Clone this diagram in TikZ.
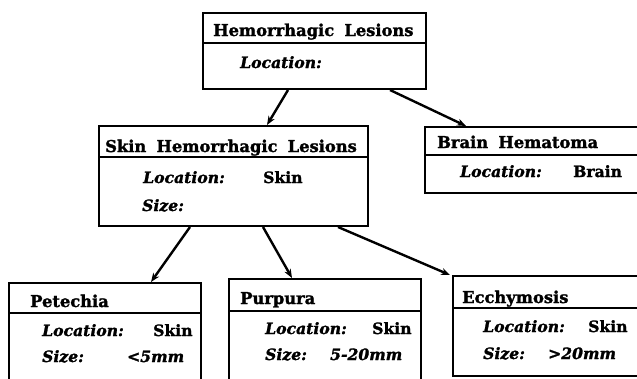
\documentclass[tikz,border=0pt]{standalone}
\usepackage{fontspec}
\setmainfont{DejaVu Serif}
\newfontface\hvy{DejaVu Serif Bold}[FakeBold=1.6,WordSpace=1.8]
\newfontface\hvyit{DejaVu Serif Bold Italic}[FakeBold=1.6]
\usetikzlibrary{arrows.meta}
\begin{document}
\begin{tikzpicture}[x=1pt,y=-1pt,
  box/.style={draw=black, line width=2pt, anchor=north west, inner sep=0pt},
  divline/.style={line width=1.5pt},
  ttl/.style={anchor=base west, inner sep=0pt, font=\fontsize{16.3}{16}\hvy},
  lbl/.style={anchor=base west, inner sep=0pt, font=\fontsize{15.6}{16}\hvyit},
  val/.style={anchor=base west, inner sep=0pt, font=\fontsize{15.6}{16}\hvy},
  vali/.style={anchor=base west, inner sep=0pt, font=\fontsize{15.6}{16}\hvyit},
  arr/.style={line width=2.4pt, -{Stealth[length=9pt,width=7pt]}}]
\useasboundingbox (0,0) rectangle (637,378);
\clip (0,0) rectangle (637,378);
% boxes
\node[box, minimum width=223pt, minimum height=76pt] (top) at (202,12) {};
\node[box, minimum width=269pt, minimum height=100pt] (skin) at (98,125) {};
\node[box, minimum width=236pt, minimum height=66pt] (brain) at (424,126) {};
\node[box, minimum width=192pt, minimum height=120pt] (pet) at (8,282) {};
\node[box, minimum width=192pt, minimum height=122pt] (pur) at (228,278) {};
\node[box, minimum width=210pt, minimum height=100pt] (ecc) at (452,275) {};
% dividers
\draw[divline] ([yshift=-31pt]top.north west) -- ([yshift=-31pt]top.north east);
\draw[divline] ([yshift=-32pt]skin.north west) -- ([yshift=-32pt]skin.north east);
\draw[divline] ([yshift=-29pt]brain.north west) -- ([yshift=-29pt]brain.north east);
\draw[divline] ([yshift=-31pt]pet.north west) -- ([yshift=-31pt]pet.north east);
\draw[divline] ([yshift=-33pt]pur.north west) -- ([yshift=-33pt]pur.north east);
\draw[divline] ([yshift=-33pt]ecc.north west) -- ([yshift=-33pt]ecc.north east);
% texts
\node[ttl] (t1) at (213,36) {Hemorrhagic Lesions};
\node[lbl] (t1l) at (240,68) {Location:};
\node[ttl] (t2) at (105,152) {Skin Hemorrhagic Lesions};
\node[lbl] (t2l) at (143,183) {Location:};
\node[val] (t2lv) at (263,183) {Skin};
\node[lbl] (t2s) at (142,211) {Size:};
\node[ttl] (t3) at (437,148) {Brain Hematoma};
\node[lbl] (t3l) at (460,177) {Location:};
\node[val] (t3lv) at (573,177) {Brain};
\node[ttl] (t4) at (30,307) {Petechia};
\node[lbl] (t4l) at (42,336) {Location:};
\node[val] (t4lv) at (153,336) {Skin};
\node[lbl] (t4s) at (42,362) {Size:};
\node[vali] (t4sv) at (127,362) {<5mm};
\node[ttl] (t5) at (240,304) {Purpura};
\node[lbl] (t5l) at (265,334) {Location:};
\node[val] (t5lv) at (372,334) {Skin};
\node[lbl] (t5s) at (265,360) {Size:};
\node[vali] (t5sv) at (330,360) {5-20mm};
\node[ttl] (t6) at (462,303) {Ecchymosis};
\node[lbl] (t6l) at (483,332) {Location:};
\node[val] (t6lv) at (588,332) {Skin};
\node[lbl] (t6s) at (483,359) {Size:};
\node[vali] (t6sv) at (548,359) {>20mm};
% arrows
\draw[arr] ([xshift=86pt]top.south west) -- ([xshift=169pt]skin.north west);
\draw[arr] ([xshift=188pt]top.south west) -- ([xshift=42pt]brain.north west);
\draw[arr] ([xshift=92pt]skin.south west) -- ([xshift=143pt]pet.north west);
\draw[arr] ([xshift=165pt]skin.south west) -- ([xshift=64pt]pur.north west);
\draw[arr] ([xshift=240pt]skin.south west) -- ([xshift=-2pt]ecc.north west);
\end{tikzpicture}
\end{document}
